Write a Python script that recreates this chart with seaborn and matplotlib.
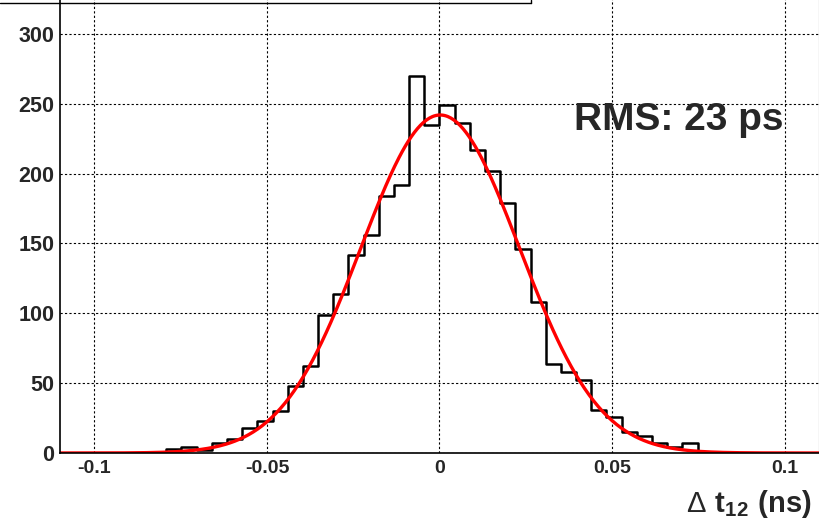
import numpy as np
import pandas as pd
import matplotlib
matplotlib.use("Agg")
import matplotlib.pyplot as plt
from matplotlib.lines import Line2D
from matplotlib.ticker import MultipleLocator
import seaborn as sns

# histogram: 50 bins between -0.11 and 0.11 ns, counts
n_bins = 50
t_range = (-0.11, 0.11)
counts = [0, 0, 0, 0, 0, 0, 0, 3, 4, 2,
          7, 10, 18, 23, 30, 48, 62, 99, 114, 142,
          156, 184, 192, 270, 235, 249, 236, 217, 202, 179,
          146, 108, 64, 58, 52, 31, 26, 15, 12, 7,
          4, 7, 0, 0, 0, 0, 0, 0, 0, 0]
bin_edges = np.linspace(t_range[0], t_range[1], n_bins + 1)
hist_df = pd.DataFrame({"t": 0.5 * (bin_edges[:-1] + bin_edges[1:]), "n": counts})

# gaussian fit parameters (constant, mean, sigma)
fit_const = 242.0
fit_mean = 0.0002
fit_sigma = 0.023

x_ticks = [-0.1, -0.05, 0, 0.05, 0.1]
x_tick_labels = ["-0.1", "-0.05", "0", "0.05", "0.1"]
y_ticks = [0, 50, 100, 150, 200, 250, 300]

sns.set_style("white")
plt.rcParams["font.family"] = ["Liberation Sans", "DejaVu Sans"]
plt.rcParams["mathtext.fontset"] = "custom"
plt.rcParams["mathtext.rm"] = "Liberation Sans"
plt.rcParams["mathtext.bf"] = "Liberation Sans:bold"

W, H = 820, 523
fig = plt.figure(figsize=(W / 100, H / 100), dpi=100)
x0, x1 = 60, 819
y_zero = 453
px_per_unit = 1.3967
ymax = 330
ax = fig.add_axes([x0 / W, (H - y_zero) / H, (x1 - x0) / W, ymax * px_per_unit / H])

sns.histplot(data=hist_df, x="t", weights="n", bins=n_bins, binrange=t_range,
             element="step", fill=False, color="black", linewidth=1.8, ax=ax)

xs = np.linspace(t_range[0], t_range[1], 500)
ys = fit_const * np.exp(-0.5 * ((xs - fit_mean) / fit_sigma) ** 2)
sns.lineplot(x=xs, y=ys, color="#ff0000", linewidth=2.4, ax=ax)

ax.set_xlim(*t_range)
ax.set_ylim(0, ymax)
ax.set_xlabel("")
ax.set_ylabel("")

ax.set_xticks(x_ticks)
ax.set_xticklabels(x_tick_labels, fontsize=14, fontweight="bold")
ax.set_yticks(y_ticks)
ax.set_yticklabels([str(v) for v in y_ticks], fontsize=15.5, fontweight="bold")
ax.xaxis.set_minor_locator(MultipleLocator(0.01))
ax.yaxis.set_minor_locator(MultipleLocator(10))
ax.tick_params(axis="x", which="major", direction="in", length=9, width=1, pad=5)
ax.tick_params(axis="x", which="minor", direction="in", length=5, width=1)
ax.tick_params(axis="y", which="major", direction="in", length=16, width=1, pad=4)
ax.tick_params(axis="y", which="minor", direction="in", length=8.5, width=1)
ax.tick_params(top=False, right=False, which="both")

ax.grid(True, which="major", color="black", linestyle=(0, (2, 2)), linewidth=0.8)
for s in ax.spines.values():
    s.set_color("black")
    s.set_linewidth(1.2)
ax.spines["right"].set_color("#666666")
ax.spines["right"].set_linewidth(0.8)

ax.text(0.0391, 231, "RMS: 23 ps", fontsize=28, fontweight="bold",
        ha="left", va="baseline")

fig.text(812 / W, 1 - 512 / H, r"$\Delta\ \mathbf{t}_{\mathbf{12}}\ \mathbf{(ns)}$",
         fontsize=21, ha="right", va="baseline")

# bottom edge of the (cropped) title box at the top
fig.add_artist(Line2D([0, 531 / W], [1 - 3 / H, 1 - 3 / H], color="black", linewidth=1))
fig.add_artist(Line2D([531 / W, 531 / W], [1 - 3 / H, 1], color="black", linewidth=1))

fig.savefig("out.png", dpi=100)
